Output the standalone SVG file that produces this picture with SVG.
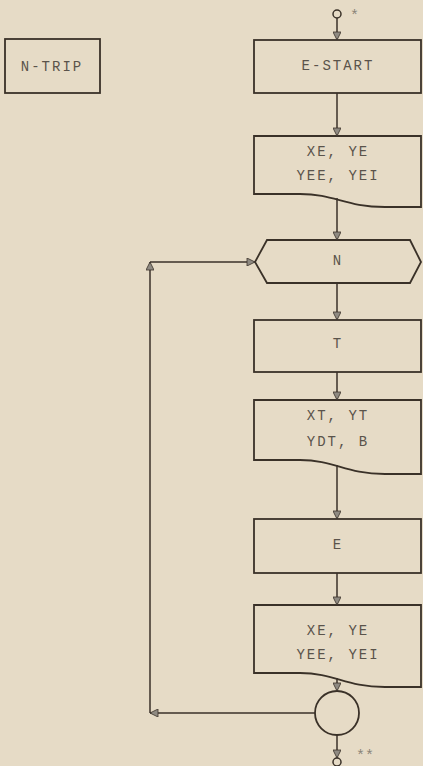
<svg xmlns="http://www.w3.org/2000/svg" width="423" height="766" viewBox="0 0 423 766">
<style>
.b{fill:none;stroke:#3a3128;stroke-width:1.8}
.c{fill:none;stroke:#3a3128;stroke-width:1.5}
.t{font-family:"Liberation Mono",monospace;font-size:14px;letter-spacing:2px;fill:#5a534b;text-anchor:middle;dominant-baseline:central}
.s{font-family:"Liberation Mono",monospace;font-size:15px;fill:#8a8378;dominant-baseline:central}
</style>
<defs>
<marker id="a" viewBox="0 0 10 10" refX="10" refY="5" markerWidth="11" markerHeight="8" markerUnits="userSpaceOnUse" orient="auto">
<path d="M0,0 L10,5 L0,10 Z" fill="#8f8a82" stroke="#3a3128" stroke-width="1"/>
</marker>
</defs>
<rect width="423" height="766" fill="#e6dbc6"/>
<g id="ntrip"><rect class="b" x="5" y="39" width="95" height="54"/><text class="t" x="52" y="67">N-TRIP</text></g>
<g id="start-terminal"><circle class="c" cx="337" cy="14" r="4"/><text class="s" x="350" y="16">*</text></g>
<g id="estart"><rect class="b" x="254" y="40" width="167" height="53"/><text class="t" x="338" y="66">E-START</text></g>
<g id="doc1"><path class="b" d="M254,136 H421 V207 H385 C345,207 335,194 300,194 H254 Z"/><text class="t" x="338" y="152">XE, YE</text><text class="t" x="338" y="176">YEE, YEI</text></g>
<g id="n"><path class="b" d="M267,240 H410 L421,262 L410,283 H267 L255,262 Z"/><text class="t" x="338" y="261">N</text></g>
<g id="t"><rect class="b" x="254" y="320" width="167" height="52"/><text class="t" x="338" y="344">T</text></g>
<g id="doc2"><path class="b" d="M254,400 H421 V474 H385 C345,474 335,460 300,460 H254 Z"/><text class="t" x="338" y="416">XT, YT</text><text class="t" x="338" y="442">YDT, B</text></g>
<g id="e"><rect class="b" x="254" y="519" width="167" height="54"/><text class="t" x="338" y="545">E</text></g>
<g id="doc3"><path class="b" d="M254,605 H421 V687 H385 C345,687 335,673 300,673 H254 Z"/><text class="t" x="338" y="631">XE, YE</text><text class="t" x="338" y="655">YEE, YEI</text></g>
<g id="connector-circle"><circle class="b" cx="337" cy="713" r="22"/></g>
<g id="end-terminal"><circle class="c" cx="337" cy="762" r="4"/><text class="s" x="356" y="756">**</text></g>
<g id="connectors">
<line class="c" x1="337" y1="18" x2="337" y2="40" marker-end="url(#a)"/>
<line class="c" x1="337" y1="93" x2="337" y2="136" marker-end="url(#a)"/>
<line class="c" x1="337" y1="198" x2="337" y2="240" marker-end="url(#a)"/>
<line class="c" x1="337" y1="283" x2="337" y2="320" marker-end="url(#a)"/>
<line class="c" x1="337" y1="372" x2="337" y2="400" marker-end="url(#a)"/>
<line class="c" x1="337" y1="465" x2="337" y2="519" marker-end="url(#a)"/>
<line class="c" x1="337" y1="573" x2="337" y2="605" marker-end="url(#a)"/>
<line class="c" x1="337" y1="678" x2="337" y2="691" marker-end="url(#a)"/>
<line class="c" x1="337" y1="735" x2="337" y2="758" marker-end="url(#a)"/>
<line class="c" x1="315" y1="713" x2="150" y2="713" marker-end="url(#a)"/>
<line class="c" x1="150" y1="713" x2="150" y2="262" marker-end="url(#a)"/>
<line class="c" x1="150" y1="262" x2="255" y2="262" marker-end="url(#a)"/>
</g>
</svg>
